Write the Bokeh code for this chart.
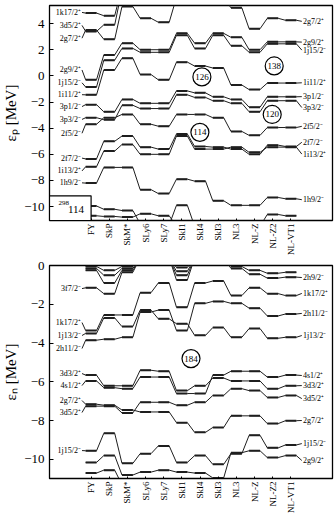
import numpy as np
from bokeh.plotting import figure
from bokeh.layouts import column
from bokeh.models import FixedTicker, Range1d
from bokeh.core.properties import value
from bokeh.embed import file_html
from bokeh.resources import INLINE

FONT = "Liberation Serif"
models = ["FY", "SkP", "SkM*", "SLy6", "SLy7", "SkI1", "SkI4", "SkI3",
          "NL3", "NL-Z", "NL-Z2", "NL-VT1"]

# ---------------- proton levels (MeV), 298-114 ----------------
p_1k17 = [4.8, 4.6, 6.8, 7.5, 7.5, 7.5, 7.5, 7.5, 7.5, 7.5, 7.5, 7.5]
p_3d5 = [3.4, 3.9, 6.6, 7.2, 7.2, 7.2, 7.2, 7.2, 7.2, 7.2, 7.2, 7.2]
p_2g7 = [3.5, 2.8, 5.3, 4.4, 4.1, 6.0, 6.5, 6.0, 5.2, 3.6, 4.4, 4.25]
p_2g9 = [-0.3, 1.6, 2.5, 2.0, 2.0, 3.25, 2.5, 3.25, 2.95, 2.0, 2.6, 2.6]
p_1j15 = [-0.85, 1.2, 2.1, 1.8, 1.8, 3.1, 2.1, 3.1, 2.3, 1.8, 2.45, 2.45]
p_1i11 = [-1.45, 0.45, 1.35, 0.1, -0.3, 1.05, 0.75, 0.6, -0.7, -1.05, -0.55, -0.55]
p_3p1 = [-2.2, -2.75, -1.8, -2.1, -2.1, -1.15, -1.3, -1.6, -1.8, -2.4, -1.6, -1.6]
p_3p3 = [-3.2, -3.35, -2.25, -2.5, -2.5, -1.45, -1.65, -1.9, -2.1, -2.75, -1.9, -1.9]
p_2f5 = [-3.7, -3.2, -2.95, -3.7, -3.85, -2.95, -2.95, -3.2, -4.25, -4.55, -3.95, -3.95]
p_2f7 = [-6.35, -5.0, -4.6, -5.45, -5.6, -4.45, -5.4, -5.45, -5.6, -6.0, -5.3, -5.4]
p_1i13 = [-6.95, -5.75, -5.25, -6.0, -6.0, -4.6, -5.6, -5.6, -5.45, -5.85, -5.45, -5.45]
p_1h9 = [-8.2, -7.0, -7.0, -8.7, -9.0, -7.9, -8.05, -9.55, -9.9, -9.9, -9.3, -9.4]
p_low1 = [-9.95, -10.2, -10.3, -11.3, -11.4, -9.9, -11.5, -11.7, -11.7, -11.5, -10.6, -10.7]
p_low2 = [-10.7, -10.75, -10.8, -10.55, -10.7, -11.5, -11.6, -11.6, -11.6, -11.6, -11.6, -11.6]

p_left_lab = {"1k17/2\u207a": 4.85, "3d5/2\u207a": 3.86, "2g7/2\u207a": 2.88,
              "2g9/2\u207a": 0.45, "1j15/2\u207b": -0.53, "1i11/2\u207a": -1.44,
              "3p1/2\u207b": -2.35, "3p3/2\u207b": -3.33, "2f5/2\u207b": -4.39,
              "2f7/2\u207b": -6.29, "1i13/2\u207a": -7.27, "1h9/2\u207b": -8.18}
p_right_lab = {"2g7/2\u207a": 4.17, "2g9/2\u207a": 2.58, "1j15/2\u207b": 1.97,
               "1i11/2\u207a": -0.53, "3p1/2\u207b": -1.59, "3p3/2\u207b": -2.42,
               "2f5/2\u207b": -3.86, "2f7/2\u207b": -5.08, "1i13/2\u207a": -5.98,
               "1h9/2\u207b": -9.47}
p_levels = [("1k17/2\u207a", p_1k17), ("3d5/2\u207a", p_3d5), ("2g7/2\u207a", p_2g7),
            ("2g9/2\u207a", p_2g9), ("1j15/2\u207b", p_1j15), ("1i11/2\u207a", p_1i11),
            ("3p1/2\u207b", p_3p1), ("3p3/2\u207b", p_3p3), ("2f5/2\u207b", p_2f5),
            ("2f7/2\u207b", p_2f7), ("1i13/2\u207a", p_1i13), ("1h9/2\u207b", p_1h9),
            ("_a", p_low1), ("_b", p_low2)]
p_gap_numbers = ["126", "138", "120", "114"]
p_gap_x = [6.1, 10.08, 9.97, 5.99]
p_gap_E = [-0.08, 0.76, -2.95, -4.32]

# ---------------- neutron levels (MeV) ----------------
n_u1 = [-0.05, -0.25, -0.05, 0.4, 0.4, -0.1, 0.4, 0.4, -0.05, -0.25, -0.4, -0.35]
n_2h9 = [-0.15, -0.5, -0.15, 0.4, 0.4, -0.3, 0.4, 0.4, -0.15, -0.45, -0.65, -0.6]
n_u3 = [-0.25, -0.9, -0.25, 0.4, 0.4, -0.5, 0.4, 0.4, 0.4, 0.4, 0.4, 0.4]
n_3f7 = [-1.15, -1.45, -0.35, 0.4, 0.4, -0.75, 0.4, 0.4, 0.4, 0.4, 0.4, 0.4]
n_1k17 = [-3.35, -2.55, -2.55, -1.4, -0.9, -2.15, -0.9, -0.8, -1.55, -1.15, -1.45, -1.55]
n_1j13 = [-3.5, -2.7, -3.15, -2.3, -2.75, -3.0, -3.6, -3.2, -3.7, -3.25, -3.75, -3.7]
n_2h11 = [-3.85, -3.8, -3.7, -2.4, -2.3, -3.35, -1.95, -1.85, -1.95, -2.2, -2.6, -2.5]
n_3d3 = [-5.65, -6.2, -6.2, -5.4, -5.45, -6.45, -6.2, -5.8, -5.95, -5.95, -6.35, -6.2]
n_4s1 = [-5.95, -6.3, -6.35, -5.75, -5.75, -6.6, -6.6, -5.65, -5.45, -5.45, -5.75, -5.65]
n_3d5 = [-7.25, -7.25, -7.6, -7.05, -7.05, -7.2, -7.05, -6.7, -6.35, -6.45, -6.8, -6.7]
n_2g7 = [-7.15, -7.2, -7.45, -7.55, -7.55, -8.1, -8.6, -8.35, -7.75, -7.75, -8.15, -8.0]
n_1j15 = [-9.55, -8.65, -10.2, -9.7, -9.3, -10.15, -9.8, -10.25, -9.7, -8.75, -9.4, -9.25]
n_2g9 = [-10.15, -9.8, -10.8, -10.65, -10.55, -10.65, -10.7, -10.95, -9.65, -9.55, -9.9, -9.8]
n_low = [-10.7, -10.55, -11.3, -11.5, -11.5, -11.5, -11.5, -11.5, -11.5, -11.5, -11.5, -11.5]

n_left_lab = {"3f7/2\u207b": -1.19, "1k17/2\u207a": -2.94, "1j13/2\u207b": -3.61,
              "2h11/2\u207b": -4.28, "3d3/2\u207a": -5.57, "4s1/2\u207a": -6.19,
              "2g7/2\u207a": -6.96, "3d5/2\u207a": -7.58, "1j15/2\u207b": -9.54}
n_right_lab = {"2h9/2\u207b": -0.62, "1k17/2\u207a": -1.44, "2h11/2\u207b": -2.47,
               "1j13/2\u207b": -3.61, "4s1/2\u207a": -5.67, "3d3/2\u207a": -6.19,
               "3d5/2\u207a": -6.86, "2g7/2\u207a": -7.99, "1j15/2\u207b": -9.18,
               "2g9/2\u207a": -10.05}
n_levels = [("_u1", n_u1), ("2h9/2\u207b", n_2h9), ("_u3", n_u3), ("3f7/2\u207b", n_3f7),
            ("1k17/2\u207a", n_1k17), ("1j13/2\u207b", n_1j13), ("2h11/2\u207b", n_2h11),
            ("3d3/2\u207a", n_3d3), ("4s1/2\u207a", n_4s1), ("3d5/2\u207a", n_3d5),
            ("2g7/2\u207a", n_2g7), ("1j15/2\u207b", n_1j15), ("2g9/2\u207a", n_2g9),
            ("_l", n_low)]
n_gap_numbers = ["184"]
n_gap_x = [5.5]
n_gap_E = [-4.8]

p_yticks = [-10, -8, -6, -4, -2, 0, 2, 4]
n_yticks = [-10, -8, -6, -4, -2, 0]

HW = 0.3          # half width of a level bar (model units)
XL, XR = -2.29, 13.29
INK = "#1e1e1e"


def make_fig(height, yr, yticks, ylabel, bt, bb):
    p = figure(width=334, height=height, x_range=Range1d(XL, XR), y_range=Range1d(*yr),
               output_backend="svg", toolbar_location=None,
               min_border_left=46, min_border_right=2, min_border_top=bt,
               min_border_bottom=bb)
    p.xgrid.visible = False
    p.ygrid.visible = False
    p.outline_line_color = "black"
    p.outline_line_width = 1.3
    p.background_fill_color = "white"
    p.border_fill_color = "white"
    p.xaxis.ticker = FixedTicker(ticks=list(range(len(models))))
    p.xaxis.major_label_overrides = {i: m for i, m in enumerate(models)}
    p.xaxis.major_label_orientation = np.pi / 2
    p.xaxis.major_label_text_font = FONT
    p.xaxis.major_label_text_font_size = "9px"
    p.xaxis.major_label_standoff = 3
    p.xaxis.major_tick_in = 2
    p.xaxis.major_tick_out = 0
    p.xaxis.minor_tick_line_color = None
    p.yaxis.ticker = FixedTicker(ticks=yticks)
    p.yaxis.major_label_text_font = FONT
    p.yaxis.major_label_text_font_size = "13px"
    p.yaxis.major_label_standoff = 5
    p.yaxis.major_tick_in = 4
    p.yaxis.major_tick_out = 0
    p.yaxis.minor_tick_line_color = None
    p.yaxis.axis_label = ylabel
    p.yaxis.axis_label_text_font = FONT
    p.yaxis.axis_label_text_font_style = "normal"
    p.yaxis.axis_label_text_font_size = "15px"
    p.yaxis.axis_label_standoff = 2
    for ax in (p.xaxis, p.yaxis):
        ax.axis_line_color = "black"
        ax.major_tick_line_color = "black"
        ax.major_label_text_color = "black"
        ax.axis_label_text_color = "black"
    return p


def draw_levels(p, levels, left_lab, right_lab):
    xs_all, ys_all, bx0, bx1, by = [], [], [], [], []
    for name, vals in levels:
        xs, ys = [], []
        if name in left_lab:
            xs.append(-0.5)
            ys.append(left_lab[name])
        for i, v in enumerate(vals):
            xs += [i - HW, i + HW]
            ys += [v, v]
            bx0.append(i - HW)
            bx1.append(i + HW)
            by.append(v)
        if name in right_lab:
            xs.append(11.6)
            ys.append(right_lab[name])
        xs_all.append(xs)
        ys_all.append(ys)
    p.multi_line(xs_all, ys_all, line_color=INK, line_width=1.0)
    p.segment(bx0, by, bx1, by, line_color=INK, line_width=2.0)
    ln = list(left_lab.keys())
    p.text(x=[-0.56] * len(ln), y=[left_lab[k] for k in ln], text=ln,
           text_align="right", text_baseline="middle", text_font=value(FONT),
           text_font_size="8px", text_color="black")
    rn = list(right_lab.keys())
    p.text(x=[11.66] * len(rn), y=[right_lab[k] for k in rn], text=rn,
           text_align="left", text_baseline="middle", text_font=value(FONT),
           text_font_size="8px", text_color="black")


def draw_gaps(p, nums, gx, gy):
    p.scatter(gx, gy, marker="circle", size=18, fill_color="white",
              line_color="black", line_width=1.2)
    p.text(x=gx, y=gy, text=nums, text_align="center", text_baseline="middle",
           text_font=value(FONT), text_font_size="9px", text_color="black")


p1 = make_fig(257, (-11.06, 5.38), p_yticks, "\u03b5\u209a [MeV]", 5, 35)
draw_levels(p1, p_levels, p_left_lab, p_right_lab)
draw_gaps(p1, p_gap_numbers, p_gap_x, p_gap_E)
# nucleus tag box in the lower left corner
p1.quad(left=[XL], right=[0.0], bottom=[-11.06], top=[-9.17], fill_color="white",
        line_color="black", line_width=1.2)
p1.text(x=[-1.8], y=[-9.75], text=["298"], text_align="left", text_baseline="middle",
        text_font=value(FONT), text_font_size="7px", text_color="black")
p1.text(x=[-1.27], y=[-10.2], text=["114"], text_align="left", text_baseline="middle",
        text_font=value(FONT), text_font_size="11px", text_color="black")

p2 = make_fig(260, (-10.98, 0.0), n_yticks, "\u03b5\u2099 [MeV]", 8, 39)
draw_levels(p2, n_levels, n_left_lab, n_right_lab)
draw_gaps(p2, n_gap_numbers, n_gap_x, n_gap_E)

layout = column(p1, p2, spacing=0)
open("out.html", "w").write(file_html(layout, INLINE))
